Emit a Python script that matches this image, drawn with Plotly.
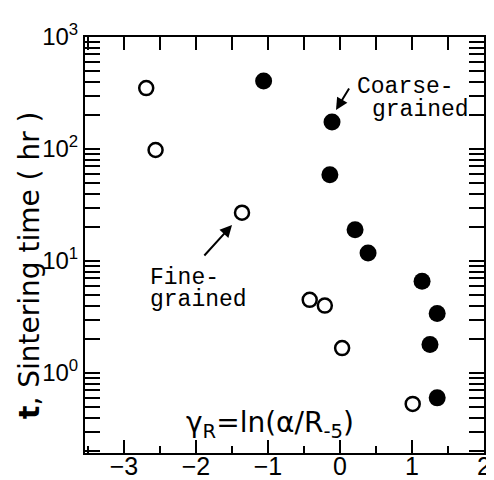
import plotly.graph_objects as go

# Data
fine_x = [-2.69, -2.56, -1.36, -0.42, -0.21, 0.03, 1.01]
fine_t = [350, 98, 27, 4.5, 4.0, 1.67, 0.53]
coarse_x = [-1.06, -0.11, -0.14, 0.21, 0.39, 1.14, 1.35, 1.25, 1.35]
coarse_t = [404, 174, 59, 19, 11.8, 6.6, 3.4, 1.8, 0.6]

x_ticks = [-3, -2, -1, 0, 1, 2]
y_ticks = [1, 10, 100, 1000]
y_ticktext = ["10<sup>0</sup>", "10<sup>1</sup>", "10<sup>2</sup>", "10<sup>3</sup>"]
y_minor = [m * 10 ** e for e in range(-1, 3) for m in range(2, 10)]

# page body has an 8px default margin: compensate
OFF = 8
W, H = 494 - OFF, 480 - OFF
L, R, T, B = 85 - OFF, 10, 37 - OFF, 27
PW, PH = W - L - R, H - T - B


def px(x):
    return (x - OFF - L) / PW


def py(y):
    return 1 - (y - OFF - T) / PH


fig = go.Figure()
fig.add_trace(go.Scatter(
    x=fine_x, y=fine_t, mode="markers", name="Fine-grained",
    marker=dict(symbol="circle-open", size=14, color="black", line=dict(width=2.5, color="black")),
))
fig.add_trace(go.Scatter(
    x=coarse_x, y=coarse_t, mode="markers", name="Coarse-grained",
    marker=dict(symbol="circle", size=17, color="black"),
))
# helper trace that binds the top axis
fig.add_trace(go.Scatter(x=[None], y=[None], xaxis="x2", showlegend=False, hoverinfo="skip"))

xfont = dict(family="Liberation Sans, Arial, sans-serif", size=25, color="black")
yfont = dict(family="Liberation Sans, Arial, sans-serif", size=24, color="black")

fig.update_layout(
    width=W, height=H,
    margin=dict(l=L, r=R, t=T, b=B),
    paper_bgcolor="white", plot_bgcolor="white",
    showlegend=False,
    xaxis=dict(
        range=[-3.54, 2], tickvals=x_ticks, ticks="inside", ticklen=13, tickwidth=2,
        tickcolor="black", showline=True, linecolor="black", linewidth=2, mirror=True,
        showgrid=False, zeroline=False, tickfont=xfont, automargin=False,
        ticklabelstandoff=-10,
        minor=dict(dtick=0.5, ticks="inside", ticklen=7, tickwidth=2, tickcolor="black", showgrid=False),
    ),
    xaxis2=dict(
        overlaying="x", side="top", range=[-3.54, 2], dtick=0.5, tick0=0, ticks="inside",
        ticklen=13, tickwidth=2, tickcolor="black", showticklabels=False, showgrid=False,
        zeroline=False, showline=False, automargin=False,
    ),
    yaxis=dict(
        type="log", range=[-0.714, 3], tickvals=y_ticks, ticktext=y_ticktext,
        ticks="inside", ticklen=15, tickwidth=2, tickcolor="black",
        showline=True, linecolor="black", linewidth=2, mirror="allticks",
        showgrid=False, zeroline=False, tickfont=yfont, automargin=False,
        minor=dict(tickvals=y_minor, ticks="inside", ticklen=8, tickwidth=2, tickcolor="black", showgrid=False),
    ),
)

sans = "DejaVu Sans, sans-serif"
mono = "Liberation Mono, Courier New, monospace"

ann = [
    dict(text="<b>t</b>, Sintering time ( hr )", x=px(29), y=py(266), textangle=-90,
         font=dict(family=sans, size=28, color="black")),
    dict(text="γ<sub>R</sub>=ln(α/R<sub>-5</sub>)", x=px(270), y=py(424),
         font=dict(family=sans, size=28, color="black")),
    dict(text="Coarse-", x=px(355), y=py(87), xanchor="left",
         font=dict(family=mono, size=23, color="black")),
    dict(text="grained", x=px(370), y=py(110), xanchor="left",
         font=dict(family=mono, size=23, color="black")),
    dict(text="Fine-", x=px(148), y=py(278), xanchor="left",
         font=dict(family=mono, size=23, color="black")),
    dict(text="grained", x=px(148), y=py(300), xanchor="left",
         font=dict(family=mono, size=23, color="black")),
]
for a in ann:
    a.update(xref="paper", yref="paper", showarrow=False)
    a.setdefault("xanchor", "center")
    a.setdefault("yanchor", "middle")
    fig.add_annotation(**a)

# arrows
fig.add_annotation(xref="paper", yref="paper", x=px(336), y=py(110), ax=14, ay=-23, text="",
                   showarrow=True, arrowhead=2, arrowsize=1.2, arrowwidth=2, arrowcolor="black")
fig.add_annotation(xref="paper", yref="paper", x=px(232), y=py(225), ax=-29, ay=32, text="",
                   showarrow=True, arrowhead=2, arrowsize=1.2, arrowwidth=2, arrowcolor="black")

fig.write_html("out.html")
